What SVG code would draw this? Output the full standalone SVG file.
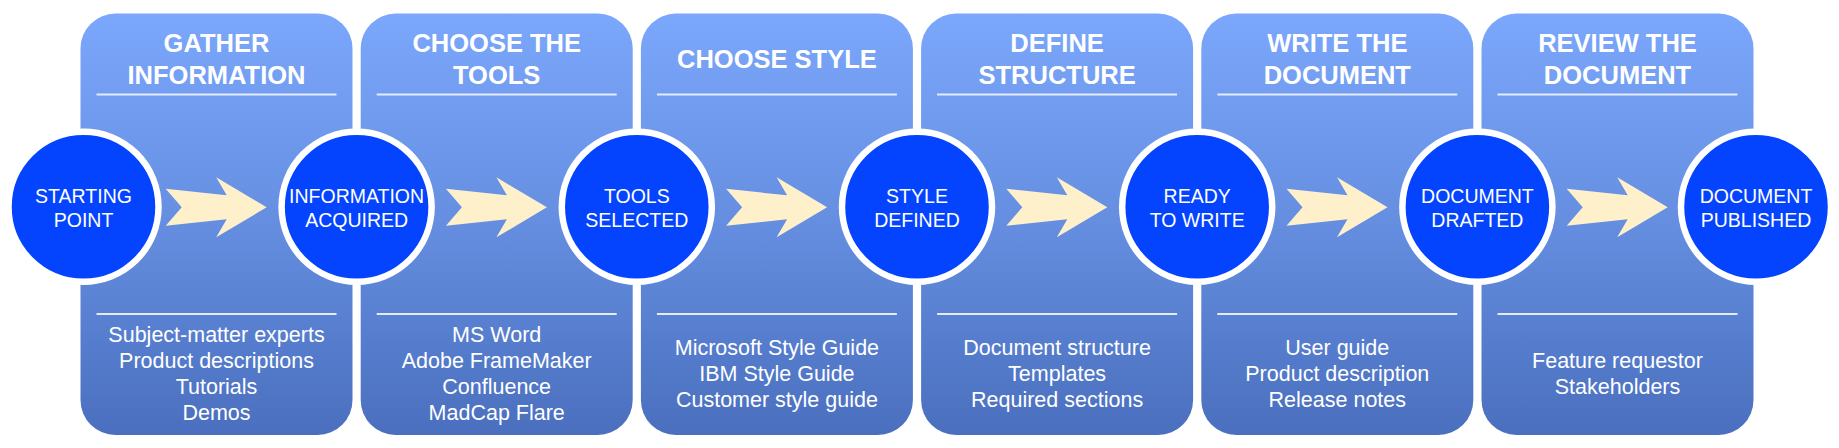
<svg xmlns="http://www.w3.org/2000/svg" width="1839" height="448" viewBox="0 0 1839 448">
<defs>
<linearGradient id="pg" x1="0" y1="0" x2="0" y2="1">
<stop offset="0" stop-color="#7BA7FC"/>
<stop offset="0.5" stop-color="#658EE0"/>
<stop offset="1" stop-color="#4A6FBE"/>
</linearGradient>
<path id="arr" d="M-50.5,-18.5 L-34.5,0 L-50.5,18.5 L10.5,12 L0,30 L50.5,0 L0,-30 L10.5,-12 Z"/>
</defs>
<style>
.panel{fill:url(#pg);}
.rule{stroke:#E4EBF8;stroke-width:2;fill:none;}
.hd{font-family:"Liberation Sans",Arial,sans-serif;font-weight:bold;font-size:25.5px;fill:#FFFFFF;text-anchor:middle;}
.it{font-family:"Liberation Sans",Arial,sans-serif;font-size:21.5px;fill:#FFFFFF;text-anchor:middle;}
.ms{fill:#0444FF;stroke:#FFFFFF;stroke-width:6.5;}
.mt{font-family:"Liberation Sans",Arial,sans-serif;font-size:19.5px;fill:#FFFFFF;text-anchor:middle;}
.ar{fill:#FFF0CC;}
</style>
<rect width="1839" height="448" fill="#FFFFFF"/>

<g id="panel-gather">
<rect class="panel" x="80.5" y="13.5" width="272" height="421.5" rx="35"/>
<line class="rule" x1="96.5" y1="94.5" x2="336.5" y2="94.5"/>
<line class="rule" x1="96.5" y1="314" x2="336.5" y2="314"/>
<text class="hd" x="216.5" y="52">GATHER</text>
<text class="hd" x="216.5" y="84">INFORMATION</text>
<text class="it" x="216.5" y="341.5">Subject-matter experts</text>
<text class="it" x="216.5" y="367.8">Product descriptions</text>
<text class="it" x="216.5" y="394.1">Tutorials</text>
<text class="it" x="216.5" y="420.4">Demos</text>
</g>

<g id="panel-tools">
<rect class="panel" x="360.7" y="13.5" width="272" height="421.5" rx="35"/>
<line class="rule" x1="376.7" y1="94.5" x2="616.7" y2="94.5"/>
<line class="rule" x1="376.7" y1="314" x2="616.7" y2="314"/>
<text class="hd" x="496.7" y="52">CHOOSE THE</text>
<text class="hd" x="496.7" y="84">TOOLS</text>
<text class="it" x="496.7" y="341.5">MS Word</text>
<text class="it" x="496.7" y="367.8">Adobe FrameMaker</text>
<text class="it" x="496.7" y="394.1">Confluence</text>
<text class="it" x="496.7" y="420.4">MadCap Flare</text>
</g>

<g id="panel-style">
<rect class="panel" x="640.9" y="13.5" width="272" height="421.5" rx="35"/>
<line class="rule" x1="656.9" y1="94.5" x2="896.9" y2="94.5"/>
<line class="rule" x1="656.9" y1="314" x2="896.9" y2="314"/>
<text class="hd" x="776.9" y="68">CHOOSE STYLE</text>
<text class="it" x="776.9" y="354.7">Microsoft Style Guide</text>
<text class="it" x="776.9" y="381">IBM Style Guide</text>
<text class="it" x="776.9" y="407.3">Customer style guide</text>
</g>

<g id="panel-structure">
<rect class="panel" x="921.1" y="13.5" width="272" height="421.5" rx="35"/>
<line class="rule" x1="937.1" y1="94.5" x2="1177.1" y2="94.5"/>
<line class="rule" x1="937.1" y1="314" x2="1177.1" y2="314"/>
<text class="hd" x="1057.1" y="52">DEFINE</text>
<text class="hd" x="1057.1" y="84">STRUCTURE</text>
<text class="it" x="1057.1" y="354.7">Document structure</text>
<text class="it" x="1057.1" y="381">Templates</text>
<text class="it" x="1057.1" y="407.3">Required sections</text>
</g>

<g id="panel-write">
<rect class="panel" x="1201.3" y="13.5" width="272" height="421.5" rx="35"/>
<line class="rule" x1="1217.3" y1="94.5" x2="1457.3" y2="94.5"/>
<line class="rule" x1="1217.3" y1="314" x2="1457.3" y2="314"/>
<text class="hd" x="1337.3" y="52">WRITE THE</text>
<text class="hd" x="1337.3" y="84">DOCUMENT</text>
<text class="it" x="1337.3" y="354.7">User guide</text>
<text class="it" x="1337.3" y="381">Product description</text>
<text class="it" x="1337.3" y="407.3">Release notes</text>
</g>

<g id="panel-review">
<rect class="panel" x="1481.5" y="13.5" width="272" height="421.5" rx="35"/>
<line class="rule" x1="1497.5" y1="94.5" x2="1737.5" y2="94.5"/>
<line class="rule" x1="1497.5" y1="314" x2="1737.5" y2="314"/>
<text class="hd" x="1617.5" y="52">REVIEW THE</text>
<text class="hd" x="1617.5" y="84">DOCUMENT</text>
<text class="it" x="1617.5" y="367.8">Feature requestor</text>
<text class="it" x="1617.5" y="394.1">Stakeholders</text>
</g>

<g id="connectors">
<use class="ar" href="#arr" x="216.2" y="207.3"/>
<use class="ar" href="#arr" x="496.4" y="207.3"/>
<use class="ar" href="#arr" x="776.6" y="207.3"/>
<use class="ar" href="#arr" x="1056.8" y="207.3"/>
<use class="ar" href="#arr" x="1337" y="207.3"/>
<use class="ar" href="#arr" x="1617.2" y="207.3"/>
</g>

<g id="m-start">
<circle class="ms" cx="83.5" cy="206.7" r="75"/>
<text class="mt" x="83.5" y="202.7">STARTING</text>
<text class="mt" x="83.5" y="226.7">POINT</text>
</g>
<g id="m-info">
<circle class="ms" cx="356.6" cy="206.7" r="75"/>
<text class="mt" x="356.6" y="202.7">INFORMATION</text>
<text class="mt" x="356.6" y="226.7">ACQUIRED</text>
</g>
<g id="m-tools">
<circle class="ms" cx="636.8" cy="206.7" r="75"/>
<text class="mt" x="636.8" y="202.7">TOOLS</text>
<text class="mt" x="636.8" y="226.7">SELECTED</text>
</g>
<g id="m-style">
<circle class="ms" cx="917" cy="206.7" r="75"/>
<text class="mt" x="917" y="202.7">STYLE</text>
<text class="mt" x="917" y="226.7">DEFINED</text>
</g>
<g id="m-ready">
<circle class="ms" cx="1197.2" cy="206.7" r="75"/>
<text class="mt" x="1197.2" y="202.7">READY</text>
<text class="mt" x="1197.2" y="226.7">TO WRITE</text>
</g>
<g id="m-drafted">
<circle class="ms" cx="1477.4" cy="206.7" r="75"/>
<text class="mt" x="1477.4" y="202.7">DOCUMENT</text>
<text class="mt" x="1477.4" y="226.7">DRAFTED</text>
</g>
<g id="m-published">
<circle class="ms" cx="1756" cy="206.7" r="75"/>
<text class="mt" x="1756" y="202.7">DOCUMENT</text>
<text class="mt" x="1756" y="226.7">PUBLISHED</text>
</g>
</svg>
